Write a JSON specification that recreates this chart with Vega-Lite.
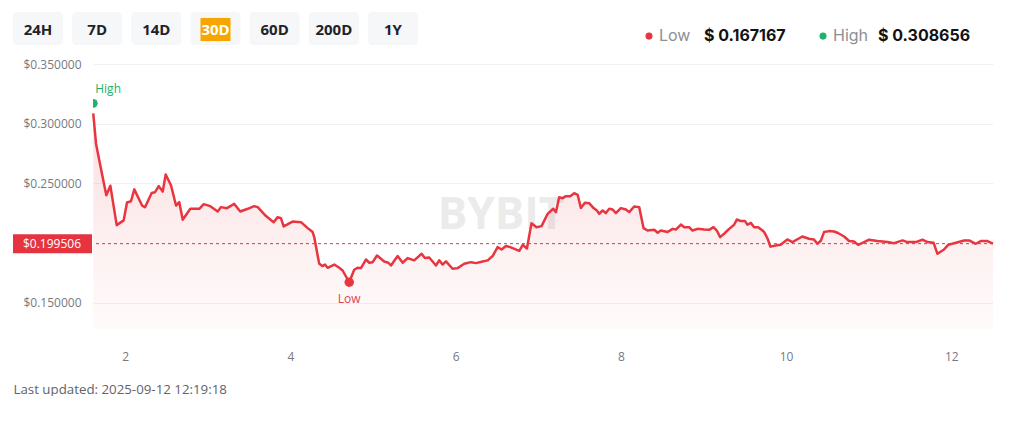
{
  "$schema": "https://vega.github.io/schema/vega-lite/v6.json",
  "padding": {"left": 12, "top": 12, "right": 0, "bottom": 0},
  "autosize": {"type": "pad"},
  "config": {"font": "Open Sans", "view": {"stroke": null}},
  "spacing": 13,
  "datasets": {
    "series": [
      {"day":1.613,"price":0.308656},{"day":1.647,"price":0.283},{"day":1.707,"price":0.262},{"day":1.771,"price":0.240},
      {"day":1.820,"price":0.248},{"day":1.897,"price":0.215},{"day":1.981,"price":0.219},{"day":2.022,"price":0.234},
      {"day":2.070,"price":0.235},{"day":2.110,"price":0.245},{"day":2.204,"price":0.2314},{"day":2.240,"price":0.230},
      {"day":2.320,"price":0.242},{"day":2.361,"price":0.2426},{"day":2.406,"price":0.2477},{"day":2.454,"price":0.2431},
      {"day":2.490,"price":0.2574},{"day":2.555,"price":0.2482},{"day":2.615,"price":0.2314},{"day":2.654,"price":0.2343},
      {"day":2.696,"price":0.2195},{"day":2.788,"price":0.2287},{"day":2.897,"price":0.2287},{"day":2.950,"price":0.2326},
      {"day":3.030,"price":0.2309},{"day":3.120,"price":0.2264},{"day":3.159,"price":0.2301},{"day":3.232,"price":0.2292},
      {"day":3.320,"price":0.2328},{"day":3.393,"price":0.2264},{"day":3.483,"price":0.2287},{"day":3.562,"price":0.2309},
      {"day":3.604,"price":0.2301},{"day":3.704,"price":0.2226},{"day":3.797,"price":0.2175},{"day":3.846,"price":0.2217},
      {"day":3.885,"price":0.2209},{"day":3.918,"price":0.2139},{"day":4.027,"price":0.2180},{"day":4.128,"price":0.2175},
      {"day":4.209,"price":0.2125},{"day":4.269,"price":0.2092},{"day":4.288,"price":0.2050},{"day":4.337,"price":0.1868},
      {"day":4.349,"price":0.1826},{"day":4.390,"price":0.1807},{"day":4.418,"price":0.1820},{"day":4.450,"price":0.1793},
      {"day":4.531,"price":0.1820},{"day":4.591,"price":0.1793},{"day":4.632,"price":0.1770},{"day":4.712,"price":0.167167},
      {"day":4.772,"price":0.1776},{"day":4.813,"price":0.1793},{"day":4.854,"price":0.1790},{"day":4.914,"price":0.1862},
      {"day":4.955,"price":0.1835},{"day":4.996,"price":0.1840},{"day":5.048,"price":0.1896},{"day":5.096,"price":0.1868},
      {"day":5.135,"price":0.1846},{"day":5.185,"price":0.1835},{"day":5.217,"price":0.1812},{"day":5.298,"price":0.1891},
      {"day":5.359,"price":0.1835},{"day":5.419,"price":0.1874},{"day":5.498,"price":0.1855},{"day":5.588,"price":0.1910},
      {"day":5.628,"price":0.1874},{"day":5.680,"price":0.1879},{"day":5.762,"price":0.1812},{"day":5.801,"price":0.1855},
      {"day":5.842,"price":0.1820},{"day":5.883,"price":0.1846},{"day":5.963,"price":0.1785},{"day":6.024,"price":0.1790},
      {"day":6.104,"price":0.1826},{"day":6.185,"price":0.1840},{"day":6.246,"price":0.1832},{"day":6.327,"price":0.1846},
      {"day":6.388,"price":0.1855},{"day":6.448,"price":0.1891},{"day":6.508,"price":0.1966},{"day":6.556,"price":0.1946},
      {"day":6.609,"price":0.1975},{"day":6.661,"price":0.1966},{"day":6.770,"price":0.1935},{"day":6.813,"price":0.1985},
      {"day":6.863,"price":0.1954},{"day":6.918,"price":0.2165},{"day":6.979,"price":0.2133},{"day":7.040,"price":0.2142},
      {"day":7.114,"price":0.2245},{"day":7.181,"price":0.2287},{"day":7.214,"price":0.2259},{"day":7.253,"price":0.2384},
      {"day":7.295,"price":0.2376},{"day":7.335,"price":0.2393},{"day":7.387,"price":0.2393},{"day":7.435,"price":0.2418},
      {"day":7.477,"price":0.2404},{"day":7.516,"price":0.2293},{"day":7.565,"price":0.2337},{"day":7.616,"price":0.2334},
      {"day":7.670,"price":0.2293},{"day":7.710,"price":0.2273},{"day":7.738,"price":0.2245},{"day":7.779,"price":0.2273},
      {"day":7.818,"price":0.2251},{"day":7.859,"price":0.2287},{"day":7.900,"price":0.2281},{"day":7.940,"price":0.2251},
      {"day":8.000,"price":0.2293},{"day":8.061,"price":0.2281},{"day":8.101,"price":0.2259},{"day":8.161,"price":0.2306},
      {"day":8.222,"price":0.2301},{"day":8.275,"price":0.2125},{"day":8.323,"price":0.2105},{"day":8.404,"price":0.2111},
      {"day":8.445,"price":0.2086},{"day":8.484,"price":0.2105},{"day":8.566,"price":0.2092},{"day":8.626,"price":0.2119},
      {"day":8.666,"price":0.2113},{"day":8.727,"price":0.2155},{"day":8.767,"price":0.2133},{"day":8.827,"price":0.2133},
      {"day":8.867,"price":0.2105},{"day":8.929,"price":0.2119},{"day":9.008,"price":0.2113},{"day":9.068,"price":0.2111},
      {"day":9.122,"price":0.2133},{"day":9.162,"price":0.2105},{"day":9.202,"price":0.2050},{"day":9.250,"price":0.2078},
      {"day":9.311,"price":0.2119},{"day":9.371,"price":0.2153},{"day":9.404,"price":0.2197},{"day":9.453,"price":0.2184},
      {"day":9.501,"price":0.2184},{"day":9.534,"price":0.2153},{"day":9.573,"price":0.2169},{"day":9.614,"price":0.2133},
      {"day":9.662,"price":0.2133},{"day":9.715,"price":0.2105},{"day":9.735,"price":0.2092},{"day":9.777,"price":0.2036},
      {"day":9.810,"price":0.1970},{"day":9.874,"price":0.1980},{"day":9.934,"price":0.1985},{"day":10.015,"price":0.2030},
      {"day":10.076,"price":0.2008},{"day":10.197,"price":0.2055},{"day":10.277,"price":0.2036},{"day":10.338,"price":0.2030},
      {"day":10.379,"price":0.1994},{"day":10.419,"price":0.2017},{"day":10.460,"price":0.2092},{"day":10.521,"price":0.2100},
      {"day":10.581,"price":0.2097},{"day":10.629,"price":0.2084},{"day":10.703,"price":0.2055},{"day":10.763,"price":0.2017},
      {"day":10.823,"price":0.2013},{"day":10.872,"price":0.1985},{"day":10.945,"price":0.2008},{"day":11.005,"price":0.2028},
      {"day":11.107,"price":0.2017},{"day":11.228,"price":0.2008},{"day":11.308,"price":0.1999},{"day":11.410,"price":0.2022},
      {"day":11.470,"price":0.2008},{"day":11.571,"price":0.2008},{"day":11.651,"price":0.2028},{"day":11.712,"price":0.2008},
      {"day":11.785,"price":0.2003},{"day":11.833,"price":0.1910},{"day":11.912,"price":0.1946},{"day":11.962,"price":0.1985},
      {"day":12.055,"price":0.2003},{"day":12.156,"price":0.2022},{"day":12.216,"price":0.2022},{"day":12.297,"price":0.1994},
      {"day":12.357,"price":0.2017},{"day":12.437,"price":0.2017},{"day":12.505,"price":0.199506}
    ],
    "extremes": [
      {"day": 4.712, "price": 0.167167, "label": "Low"},
      {"day": 1.613, "price": 0.308656, "label": "High"}
    ],
    "buttons": [
      {"label": "24H", "selected": false},
      {"label": "7D", "selected": false},
      {"label": "14D", "selected": false},
      {"label": "30D", "selected": true},
      {"label": "60D", "selected": false},
      {"label": "200D", "selected": false},
      {"label": "1Y", "selected": false}
    ],
    "legendItems": [
      {"name": "Low", "value": "$ 0.167167"},
      {"name": "High", "value": "$ 0.308656"}
    ]
  },
  "vconcat": [
    {
      "width": 900,
      "height": 33,
      "resolve": {"scale": {"x": "independent"}},
      "layer": [
        {
          "data": {"name": "buttons"},
          "encoding": {
            "x": {"field": "label", "type": "nominal", "sort": null, "axis": null,
                  "scale": {"type": "band", "range": [-80, 325], "paddingInner": 0.155, "paddingOuter": 0}}
          },
          "layer": [
            {
              "mark": {"type": "rect", "color": "#f6f7f9", "cornerRadius": 4},
              "encoding": {
                "y": {"datum": 1, "type": "quantitative", "scale": {"domain": [0, 1]}, "axis": null},
                "y2": {"datum": 0}
              }
            },
            {
              "transform": [{"filter": "datum.selected"}],
              "mark": {"type": "rect", "color": "#f7a600", "width": 30},
              "encoding": {
                "y": {"datum": 0.82, "type": "quantitative"},
                "y2": {"datum": 0.12}
              }
            },
            {
              "mark": {"type": "text", "fontSize": 15, "fontWeight": "bold", "baseline": "middle"},
              "encoding": {
                "y": {"datum": 0.45, "type": "quantitative"},
                "text": {"field": "label"},
                "color": {"condition": {"test": "datum.selected", "value": "#ffffff"}, "value": "#1f2329"}
              }
            }
          ]
        },
        {
          "data": {"name": "legendItems"},
          "encoding": {
            "x": {"field": "name", "type": "nominal", "sort": null, "axis": null, "bandPosition": 0,
                  "scale": {"type": "band", "range": [556, 904], "paddingInner": 0, "paddingOuter": 0}},
            "y": {"datum": 0.27, "type": "quantitative"}
          },
          "layer": [
            {
              "mark": {"type": "circle", "size": 50, "opacity": 1},
              "encoding": {
                "color": {"field": "name", "type": "nominal",
                          "scale": {"domain": ["Low", "High"], "range": ["#e8353f", "#20b26c"]}, "legend": null}
              }
            },
            {
              "mark": {"type": "text", "align": "left", "baseline": "middle", "dx": 10, "fontSize": 16, "font": "Inter", "color": "#8b8f96"},
              "encoding": {"text": {"field": "name"}}
            },
            {
              "mark": {"type": "text", "align": "left", "baseline": "middle", "dx": 55, "fontSize": 16, "font": "Inter", "fontWeight": "bold", "color": "#121214"},
              "encoding": {"text": {"field": "value"}}
            }
          ]
        }
      ]
    },
    {
      "width": 900,
      "height": 265,
      "layer": [
        {
          "data": {"values": [{"brand": "BYBIT"}]},
          "mark": {"type": "text", "fontSize": 44, "fontWeight": "bold", "color": "#ebebec", "baseline": "middle"},
          "encoding": {
            "x": {"datum": 6.549, "type": "quantitative"},
            "y": {"datum": 0.2227, "type": "quantitative"},
            "text": {"field": "brand"}
          }
        },
        {
          "data": {"name": "series"},
          "mark": {"type": "area", "color": {"gradient": "linear", "x1": 0, "y1": 0, "x2": 0, "y2": 1,
                   "stops": [{"offset": 0, "color": "rgba(232,53,63,0.16)"}, {"offset": 1, "color": "rgba(232,53,63,0.02)"}]}},
          "encoding": {
            "x": {"field": "day", "type": "quantitative",
                  "scale": {"domain": [1.61, 12.505], "nice": false, "zero": false},
                  "axis": {"values": [2, 4, 6, 8, 10, 12], "format": "d", "grid": false, "domain": false, "ticks": false,
                           "labelPadding": 22, "labelColor": "#767a81", "labelFontSize": 12,
                           "title": "Last updated: 2025-09-12 12:19:18", "titleFontWeight": "normal",
                           "titleFontSize": 13.3, "titleColor": "#5f636a", "titleAnchor": "start",
                           "titleAlign": "left", "titleX": -80, "titleY": 60, "titleBaseline": "middle"}},
            "y": {"field": "price", "type": "quantitative",
                  "scale": {"domain": [0.128, 0.35], "nice": false, "zero": false},
                  "axis": {"values": [0.15, 0.25, 0.3, 0.35], "format": "$.6f", "grid": true, "gridColor": "#f0f1f3",
                           "domain": false, "ticks": false, "labelPadding": 12, "labelColor": "#767a81",
                           "labelFontSize": 12, "title": null}},
            "y2": {"datum": 0.128}
          }
        },
        {
          "data": {"values": [{"price": 0.199506}]},
          "mark": {"type": "rule", "color": "#e8353f", "strokeDash": [3, 3], "strokeWidth": 1},
          "encoding": {"y": {"field": "price", "type": "quantitative"}}
        },
        {
          "data": {"name": "series"},
          "mark": {"type": "line", "color": "#e8353f", "strokeWidth": 2.5, "strokeJoin": "round"},
          "encoding": {
            "x": {"field": "day", "type": "quantitative"},
            "y": {"field": "price", "type": "quantitative"}
          }
        },
        {
          "data": {"name": "extremes"},
          "transform": [{"filter": "datum.label === 'Low'"}],
          "layer": [
            {"mark": {"type": "circle", "size": 90, "color": "#e8353f", "opacity": 1}},
            {"mark": {"type": "text", "dy": 17, "fontSize": 12, "color": "#e04450"},
             "encoding": {"text": {"field": "label"}}}
          ],
          "encoding": {
            "x": {"field": "day", "type": "quantitative"},
            "y": {"field": "price", "type": "quantitative"}
          }
        },
        {
          "data": {"name": "extremes"},
          "transform": [{"filter": "datum.label === 'High'"}],
          "layer": [
            {"mark": {"type": "circle", "size": 80, "color": "#20b26c", "opacity": 1, "yOffset": -10, "clip": true}},
            {"mark": {"type": "text", "dx": 2, "dy": -24, "align": "left", "fontSize": 12, "color": "#20b26c"},
             "encoding": {"text": {"field": "label"}}}
          ],
          "encoding": {
            "x": {"field": "day", "type": "quantitative"},
            "y": {"field": "price", "type": "quantitative"}
          }
        },
        {
          "data": {"values": [{"price": 0.199506}]},
          "layer": [
            {"mark": {"type": "rect", "color": "#e5343f"},
             "encoding": {
               "x": {"datum": 0.6415, "type": "quantitative"},
               "x2": {"datum": 1.598},
               "y": {"datum": 0.20747, "type": "quantitative"},
               "y2": {"datum": 0.19155}
             }},
            {"mark": {"type": "text", "align": "right", "baseline": "middle", "dx": -12, "fontSize": 12, "color": "#ffffff"},
             "encoding": {
               "x": {"datum": 1.61, "type": "quantitative"},
               "y": {"field": "price", "type": "quantitative"},
               "text": {"field": "price", "type": "quantitative", "format": "$.6f"}
             }}
          ]
        }
      ]
    }
  ]
}
